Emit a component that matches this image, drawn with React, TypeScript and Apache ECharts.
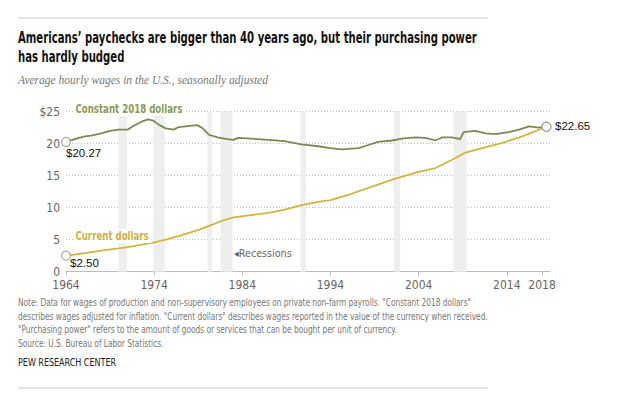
import React, { useEffect, useRef } from "react";
import * as echarts from "echarts";

const constYears = [1964, 1965, 1966, 1967, 1968, 1969, 1970, 1971, 1971.7, 1972.5, 1973.3, 1973.9, 1974.6, 1975.3, 1976.2, 1976.8, 1978, 1978.9, 1979.5, 1980.2, 1981.2, 1982.3, 1983, 1983.5, 1985, 1987, 1988.8, 1990.7, 1992.6, 1994, 1995.3, 1997.2, 1998.3, 1999.4, 2001, 2002.1, 2003.6, 2004.8, 2005.9, 2006.7, 2007.8, 2008.7, 2009.1, 2010.4, 2011.6, 2012.7, 2014.2, 2015.4, 2016.5, 2017.6, 2018.5];
const constValues = [20.27, 20.7, 21.1, 21.3, 21.6, 22.0, 22.2, 22.2, 22.8, 23.4, 23.8, 23.6, 22.9, 22.4, 22.2, 22.6, 22.8, 22.9, 22.4, 21.4, 21.0, 20.7, 20.6, 20.9, 20.8, 20.6, 20.4, 19.9, 19.6, 19.3, 19.1, 19.3, 19.8, 20.3, 20.5, 20.8, 21.0, 20.9, 20.5, 21.0, 21.0, 20.7, 21.8, 22.0, 21.6, 21.5, 21.8, 22.2, 22.7, 22.5, 22.65];

const currentYears = [1964, 1966, 1968, 1970, 1971.7, 1974, 1975.5, 1977.3, 1979.2, 1980.3, 1981.8, 1983, 1985, 1987, 1988.8, 1990.7, 1992.6, 1994, 1996, 1998.3, 2001, 2004, 2005.9, 2007.8, 2009.3, 2011.2, 2013.4, 2015.7, 2018.5];
const currentValues = [2.5, 2.86, 3.3, 3.65, 4.0, 4.6, 5.1, 5.8, 6.6, 7.2, 8.0, 8.5, 8.85, 9.2, 9.7, 10.4, 10.9, 11.2, 12.0, 13.1, 14.4, 15.6, 16.2, 17.5, 18.6, 19.3, 20.1, 21.1, 22.65];

const recessionStarts = [1969.95, 1973.9, 1980.05, 1981.55, 1990.6, 2001.2, 2007.95];
const recessionEnds = [1970.9, 1975.2, 1980.55, 1982.9, 1991.2, 2001.9, 2009.45];

const xTicks = [1964, 1974, 1984, 1994, 2004, 2014, 2018];

const title = ["Americans’ paychecks are bigger than 40 years ago, but their purchasing power", "has hardly budged"];
const subtitle = "Average hourly wages in the U.S., seasonally adjusted";
const noteLines = [
  "Note: Data for wages of production and non-supervisory employees on private non-farm payrolls. \"Constant 2018 dollars\"",
  "describes wages adjusted for inflation. \"Current dollars\" describes wages reported in the value of the currency when received.",
  "\"Purchasing power\" refers to the amount of goods or services that can be bought per unit of currency.",
  "Source: U.S. Bureau of Labor Statistics.",
];

const GREEN = "#7b8a4e";
const GOLD = "#d6b43c";
const NARROW = "'Liberation Sans Narrow', 'DejaVu Sans Condensed', sans-serif";

function txt(text: string, x: number, y: number, font: string, fill: string, scaleX = 1, extra: any = {}) {
  return {
    type: "text", x, y, scaleX, z: 10,
    style: { text, font, fill, align: "left", verticalAlign: "middle", ...extra },
  };
}

export default function App() {
  const ref = useRef<HTMLDivElement>(null);
  useEffect(() => {
    document.body.style.margin = "0";
    const chart = echarts.init(ref.current!, null, { renderer: "svg" });
    const constData = constYears.map((y, i) => [y, constValues[i]]);
    const curData = currentYears.map((y, i) => [y, currentValues[i]]);
    const last = constYears.length - 1;
    const lastC = currentYears.length - 1;
    const graphics: any[] = [
      { type: "line", shape: { x1: 18, y1: 18, x2: 488, y2: 18 }, style: { stroke: "#c8c8c8", lineWidth: 1 } },
      { type: "line", shape: { x1: 18, y1: 388, x2: 488, y2: 388 }, style: { stroke: "#c8c8c8", lineWidth: 1 } },
      ...title.map((t, i) => txt(t, 18, 38 + i * 19, `bold 15px ${NARROW}`, "#111", 0.75)),
      txt(subtitle, 18, 80, "italic 12px 'Liberation Serif', 'DejaVu Serif', serif", "#777", 0.96),
      ...noteLines.map((t, i) => txt(t, 18, 302 + i * 13.6, `11px ${NARROW}`, "#777", 0.75)),
      txt("PEW RESEARCH CENTER", 18, 362, `11px ${NARROW}`, "#222", 0.81),
      txt("Constant 2018 dollars", 73, 109, `bold 12px ${NARROW}`, "#8a9a58", 0.8, { backgroundColor: "#fff", padding: [1, 3] }),
      txt("Current dollars", 73, 236, `bold 12px ${NARROW}`, "#cfb04a", 0.8, { backgroundColor: "#fff", padding: [1, 3] }),
      txt("◂Recessions", 234, 253, `11px ${NARROW}`, "#666", 0.97),
      txt("$20.27", 66, 153, "11.5px 'Liberation Sans', sans-serif", "#111"),
      txt("$2.50", 70, 263, "11.5px 'Liberation Sans', sans-serif", "#111"),
      txt("$22.65", 555, 126, "11.5px 'Liberation Sans', sans-serif", "#111"),
    ];
    chart.setOption({
      animation: false,
      grid: { left: 66, right: 90, top: 111.7, bottom: 128.3 },
      xAxis: {
        type: "value", min: 1964, max: 2018.9,
        axisLine: { show: true, onZero: false, lineStyle: { color: "#bbb" } },
        axisTick: { show: true, customValues: xTicks, length: 4, lineStyle: { color: "#bbb" } },
        axisLabel: { customValues: xTicks, color: "#666", fontSize: 12, margin: 7, fontFamily: NARROW, formatter: (v: number) => String(v) },
        splitLine: { show: false },
      },
      yAxis: {
        type: "value", min: 0, max: 25, interval: 5,
        axisLine: { show: false }, axisTick: { show: false },
        axisLabel: { color: "#666", fontSize: 12, margin: 6, fontFamily: NARROW, formatter: (v: number) => (v === 25 ? "$25" : String(v)) },
        splitLine: { lineStyle: { color: "#bbb", type: [1, 2] } },
      },
      series: [
        {
          type: "line", name: "Constant 2018 dollars", data: constData, showSymbol: false,
          lineStyle: { color: GREEN, width: 1.8 }, z: 3,
          markArea: {
            silent: true, itemStyle: { color: "#eeeeee" },
            data: recessionStarts.map((s, i) => [{ xAxis: s }, { xAxis: recessionEnds[i] }]),
          },
        },
        {
          type: "line", name: "Current dollars", data: curData, showSymbol: false,
          lineStyle: { color: GOLD, width: 1.8 }, z: 3,
        },
        {
          type: "scatter", symbol: "circle", symbolSize: 9, z: 5,
          itemStyle: { color: "#fff", borderColor: "#999", borderWidth: 1.2 },
          data: [constData[0], curData[0], constData[last], curData[lastC]],
        },
      ],
      graphic: graphics,
    });
    return () => chart.dispose();
  }, []);
  return <div ref={ref} style={{ width: 640, height: 400 }} />;
}
